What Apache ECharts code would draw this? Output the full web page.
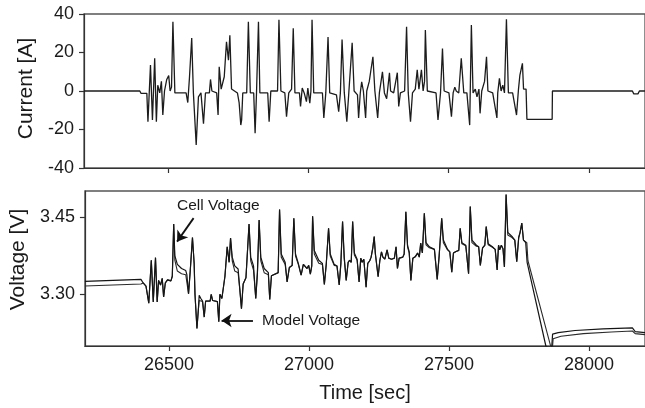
<!DOCTYPE html>
<html><head><meta charset="utf-8">
<script src="https://cdn.jsdelivr.net/npm/echarts@6/dist/echarts.min.js"></script>
<style>html,body{margin:0;padding:0;background:#fff}#c{width:645px;height:408px}</style>
</head><body><div id="c"></div>
<script>
// ---- data ----
const timeTicks = [26500, 27000, 27500, 28000];
const currentTicks = [-40, -20, 0, 20, 40];
const voltageTicks = [3.30, 3.45];

// [time s, current A]
const currentPts = [
[26200,0],[26399,0],[26403,-1.2],[26424,-1.2],[26428,-16],[26437,13.5],[26444,-15],[26452,17],[26458,-16],[26463,3],[26470,-1],[26476,5],[26481,-12.5],[26487,0],[26495,6],[26502,8],[26507,0],[26512,2],[26517,36],[26524,-1],
[26564,-1],[26570,-6],[26576,7],[26584,27.5],[26590,-1],[26600,-28],[26608,-3],[26617,-1],[26626,-17],[26633,-1],[26647,-1],[26651,6],[26656,0],[26673,-1],[26678,-12.5],[26682,12.6],[26689,1],[26700,7.4],[26708,25.6],[26715,16],[26720,29],[26726,1],[26747,-1],[26753,-6],[26759,-17.7],[26762,-15],[26766,-1],[26780,-1],[26786,36],[26793,-1],[26805,-1],[26810,-22],[26815,-1],[26818,-1],[26822,36],[26827,-1],[26855,-1],[26860,-16],[26866,0],[26890,0],[26895,37],[26902,0],[26916,-1],[26922,-13.3],[26930,-1],[26940,1],[26946,32.6],[26952,-1],[26968,-1],[26972,-8],[26978,1.5],[26985,-1],[26993,-5.5],[26998,1.5],[27005,-6.3],[27009,0],[27013,37],[27019,-1],[27050,-1],[27055,-14],[27062,-1],[27066,0],[27070,28],[27076,-1],[27100,-2],[27108,-10.7],[27114,-1],[27117,0],[27120,26.8],[27128,-1],[27137,-16],[27144,-1],[27151,0],[27156,25],[27163,0],[27175,-2],[27179,-14],[27185,-1],[27190,4.8],[27196,0],[27204,-14],[27208,0],[27217,5],[27222,10],[27230,17.8],[27233,17.8],[27237,0],[27247,-14],[27253,-1],[27264,10],[27271,-1],[27279,-4],[27289,9.5],[27293,0],[27304,-1],[27310,0],[27317,9.5],[27322,-8],[27328,-1],[27343,0],[27350,33.4],[27356,-1],[27364,-16],[27371,-1],[27381,1],[27388,11],[27394,1],[27403,11],[27409,0],[27414,5],[27417,31.7],[27424,0],[27455,-1],[27462,-15],[27471,-1],[27478,22],[27484,0],[27501,-1],[27510,-13.3],[27516,-1],[27522,2],[27527,0],[27536,-1],[27545,17],[27554,-1],[27565,-1],[27575,-17.7],[27581,34.3],[27587,-1],[27595,1],[27601,-3],[27608,1],[27612,-11.6],[27618,0],[27628,5],[27635,17.8],[27640,0],[27657,-1],[27672,-14],[27675,-1],[27681,6.6],[27687,0],[27693,3],[27699,-1],[27706,37.2],[27713,-1],[27728,-1],[27742,-12.5],[27749,1],[27754,8.3],[27763,14.4],[27767,1],[27776,1],[27779,-14.7],[27869,-14.7],[27870,0],[28155,0],[28160,-1.5],[28175,-1.5],[28180,0],[28200,0]
];

// [time s, voltage V] measured cell voltage
const cellVoltage = [
[26200,3.325],[26400,3.329],[26408,3.322],[26418,3.316],[26428,3.283],[26437,3.366],[26444,3.285],[26452,3.371],[26458,3.285],[26463,3.327],[26470,3.318],[26476,3.331],[26481,3.295],[26487,3.322],[26495,3.328],[26502,3.331],[26507,3.326],[26512,3.335],[26517,3.436],[26521,3.375],[26530,3.358],[26545,3.350],[26560,3.346],[26564,3.338],[26570,3.301],[26576,3.345],[26584,3.410],[26590,3.36],[26593,3.30],[26600,3.234],[26605,3.27],[26608,3.298],[26614,3.292],[26620,3.287],[26626,3.256],[26631,3.287],[26647,3.287],[26651,3.300],[26656,3.288],[26673,3.286],[26678,3.247],[26682,3.300],[26689,3.292],[26700,3.335],[26708,3.392],[26715,3.362],[26720,3.409],[26726,3.372],[26735,3.355],[26747,3.349],[26753,3.310],[26759,3.272],[26765,3.320],[26775,3.332],[26786,3.436],[26792,3.372],[26802,3.355],[26810,3.292],[26816,3.342],[26822,3.444],[26828,3.372],[26840,3.350],[26855,3.342],[26860,3.290],[26866,3.336],[26890,3.342],[26895,3.464],[26901,3.378],[26915,3.362],[26922,3.324],[26930,3.352],[26940,3.356],[26946,3.447],[26952,3.378],[26962,3.360],[26972,3.337],[26980,3.358],[26993,3.350],[26999,3.356],[27005,3.339],[27010,3.355],[27013,3.451],[27019,3.385],[27035,3.366],[27048,3.360],[27055,3.319],[27062,3.360],[27070,3.428],[27076,3.378],[27090,3.358],[27100,3.355],[27108,3.318],[27114,3.360],[27120,3.441],[27126,3.372],[27133,3.327],[27140,3.362],[27145,3.366],[27151,3.362],[27156,3.441],[27162,3.380],[27172,3.368],[27179,3.324],[27185,3.370],[27190,3.362],[27196,3.368],[27204,3.314],[27210,3.360],[27217,3.365],[27222,3.372],[27228,3.390],[27233,3.412],[27237,3.380],[27247,3.334],[27253,3.365],[27259,3.382],[27264,3.372],[27271,3.368],[27279,3.386],[27285,3.370],[27295,3.368],[27305,3.370],[27311,3.392],[27316,3.350],[27322,3.370],[27335,3.372],[27340,3.378],[27346,3.460],[27352,3.395],[27358,3.382],[27364,3.327],[27371,3.370],[27380,3.373],[27388,3.380],[27394,3.372],[27399,3.399],[27405,3.380],[27412,3.457],[27418,3.400],[27430,3.392],[27448,3.387],[27458,3.329],[27465,3.375],[27474,3.447],[27480,3.405],[27495,3.387],[27503,3.382],[27510,3.343],[27516,3.380],[27525,3.383],[27535,3.385],[27540,3.428],[27546,3.400],[27560,3.395],[27570,3.340],[27576,3.470],[27582,3.405],[27598,3.395],[27606,3.392],[27612,3.356],[27620,3.390],[27628,3.395],[27633,3.431],[27640,3.398],[27655,3.392],[27665,3.387],[27672,3.347],[27677,3.395],[27681,3.386],[27687,3.395],[27693,3.388],[27698,3.353],[27704,3.493],[27710,3.420],[27725,3.412],[27735,3.405],[27742,3.363],[27749,3.410],[27754,3.420],[27760,3.438],[27766,3.405],[27774,3.400],[27779,3.362],[27846,3.200],[27866,3.190],[27870,3.223],[27890,3.226],[27950,3.230],[28050,3.233],[28155,3.235],[28165,3.228],[28200,3.226]
];

// [time s, voltage V] model voltage
const modelVoltage = [
[26200,3.316],[26400,3.320],[26408,3.322],[26418,3.316],[26428,3.283],[26437,3.366],[26444,3.285],[26452,3.371],[26458,3.285],[26463,3.327],[26470,3.318],[26476,3.331],[26481,3.295],[26487,3.322],[26495,3.328],[26502,3.331],[26507,3.326],[26512,3.335],[26517,3.436],[26521,3.366],[26530,3.345],[26545,3.340],[26560,3.338],[26564,3.336],[26570,3.301],[26576,3.345],[26584,3.410],[26590,3.36],[26593,3.30],[26600,3.234],[26605,3.27],[26608,3.288],[26614,3.285],[26620,3.286],[26626,3.256],[26631,3.287],[26647,3.287],[26651,3.300],[26656,3.288],[26673,3.286],[26678,3.247],[26682,3.300],[26689,3.292],[26700,3.335],[26708,3.392],[26715,3.362],[26720,3.409],[26726,3.365],[26735,3.345],[26747,3.342],[26753,3.310],[26759,3.272],[26765,3.320],[26775,3.332],[26786,3.436],[26792,3.365],[26802,3.347],[26810,3.292],[26816,3.342],[26822,3.444],[26828,3.365],[26840,3.342],[26855,3.338],[26860,3.290],[26866,3.336],[26890,3.342],[26895,3.464],[26901,3.372],[26915,3.358],[26922,3.324],[26930,3.352],[26940,3.356],[26946,3.447],[26952,3.374],[26962,3.358],[26972,3.337],[26980,3.358],[26993,3.350],[26999,3.356],[27005,3.339],[27010,3.355],[27013,3.451],[27019,3.378],[27035,3.360],[27048,3.358],[27055,3.319],[27062,3.360],[27070,3.428],[27076,3.374],[27090,3.356],[27100,3.355],[27108,3.318],[27114,3.360],[27120,3.441],[27126,3.368],[27133,3.327],[27140,3.362],[27145,3.366],[27151,3.362],[27156,3.441],[27162,3.376],[27172,3.366],[27179,3.324],[27185,3.370],[27190,3.362],[27196,3.368],[27204,3.314],[27210,3.360],[27217,3.365],[27222,3.372],[27228,3.390],[27233,3.412],[27237,3.378],[27247,3.334],[27253,3.365],[27259,3.382],[27264,3.372],[27271,3.368],[27279,3.386],[27285,3.370],[27295,3.368],[27305,3.370],[27311,3.392],[27316,3.350],[27322,3.370],[27335,3.372],[27340,3.378],[27346,3.460],[27352,3.392],[27358,3.380],[27364,3.327],[27371,3.370],[27380,3.373],[27388,3.380],[27394,3.372],[27399,3.399],[27405,3.380],[27412,3.457],[27418,3.396],[27430,3.390],[27448,3.387],[27458,3.329],[27465,3.375],[27474,3.447],[27480,3.400],[27495,3.386],[27503,3.382],[27510,3.343],[27516,3.380],[27525,3.383],[27535,3.385],[27540,3.428],[27546,3.398],[27560,3.394],[27570,3.340],[27576,3.470],[27582,3.400],[27598,3.393],[27606,3.392],[27612,3.356],[27620,3.390],[27628,3.395],[27633,3.431],[27640,3.396],[27655,3.391],[27665,3.387],[27672,3.347],[27677,3.395],[27681,3.386],[27687,3.395],[27693,3.388],[27698,3.353],[27704,3.493],[27710,3.415],[27725,3.410],[27735,3.405],[27742,3.363],[27749,3.410],[27754,3.420],[27760,3.438],[27766,3.405],[27778,3.400],[27782,3.365],[27864,3.198],[27869,3.193],[27872,3.214],[27900,3.219],[27980,3.224],[28080,3.227],[28155,3.229],[28165,3.224],[28200,3.222]
];

// annotation arrows in data coordinates [time, voltage]
const cellArrow = [[26588, 3.4475], [26529, 3.402]];
const modelArrow = [[26800, 3.2494], [26688, 3.2494]];

// ---- chart ----
const FONT = 'Liberation Sans, Arial, sans-serif';
const TXT = '#1a1a1a';
const AX = '#333';
const chart = echarts.init(document.getElementById('c'), null, {renderer: 'canvas'});

const axisCommonX = {
  type: 'value', min: 26200, max: 28200,
  axisLine: {show: true, onZero: false, lineStyle: {color: AX, width: 1.2}},
  axisTick: {show: true, inside: false, length: 5, customValues: timeTicks, lineStyle: {color: AX, width: 1.2}},
  splitLine: {show: false}
};

const option = {
  animation: false,
  backgroundColor: '#fff',
  grid: [
    {left: 84, right: -3, top: 14, height: 154, show: true, borderColor: '#555', borderWidth: 1.3},
    {left: 84, right: -3, top: 191, height: 155, show: true, borderColor: '#555', borderWidth: 1.3}
  ],
  xAxis: [
    Object.assign({}, axisCommonX, {gridIndex: 0, axisLabel: {show: false}}),
    Object.assign({}, axisCommonX, {
      gridIndex: 1,
      axisLabel: {show: true, customValues: timeTicks, fontSize: 18, color: TXT, fontFamily: FONT, margin: 10,
                  formatter: v => String(Math.round(v))},
      name: 'Time [sec]', nameLocation: 'middle', nameGap: 37,
      nameTextStyle: {fontSize: 20, color: TXT, fontFamily: FONT}
    })
  ],
  yAxis: [
    {
      type: 'value', gridIndex: 0, min: -40, max: 40, interval: 20,
      axisLine: {show: true, onZero: false, lineStyle: {color: AX, width: 1.2}},
      axisTick: {show: true, inside: false, length: 5, lineStyle: {color: AX, width: 1.2}},
      axisLabel: {fontSize: 18, color: TXT, fontFamily: FONT, margin: 10},
      splitLine: {show: false},
      name: 'Current [A]', nameLocation: 'middle', nameGap: 45,
      nameTextStyle: {fontSize: 21, color: TXT, fontFamily: FONT, padding: [0, 0, 0, 5]}
    },
    {
      type: 'value', gridIndex: 1, min: 3.2, max: 3.5,
      axisLine: {show: true, onZero: false, lineStyle: {color: AX, width: 1.2}},
      axisTick: {show: true, inside: false, length: 5, customValues: voltageTicks, lineStyle: {color: AX, width: 1.2}},
      axisLabel: {customValues: voltageTicks, fontSize: 18, color: TXT, fontFamily: FONT, margin: 10,
                  formatter: v => v.toFixed(2)},
      splitLine: {show: false},
      name: 'Voltage [V]', nameLocation: 'middle', nameGap: 45,
      nameTextStyle: {fontSize: 21, color: TXT, fontFamily: FONT, padding: [0, 0, 0, 18]}
    }
  ],
  series: [
    {
      type: 'line', xAxisIndex: 0, yAxisIndex: 0, data: currentPts,
      showSymbol: false, symbol: 'none', lineStyle: {color: '#1c1c1c', width: 1.3}
    },
    {
      type: 'line', xAxisIndex: 1, yAxisIndex: 1, data: modelVoltage, name: 'Model Voltage',
      showSymbol: false, symbol: 'none', lineStyle: {color: '#2a2a2a', width: 1.1}
    },
    {
      type: 'line', xAxisIndex: 1, yAxisIndex: 1, data: cellVoltage, name: 'Cell Voltage',
      showSymbol: false, lineStyle: {color: '#151515', width: 1.2}
    },
    {
      type: 'lines', coordinateSystem: 'cartesian2d', xAxisIndex: 1, yAxisIndex: 1,
      silent: true, z: 5,
      symbol: ['none', 'arrow'], symbolSize: 10,
      lineStyle: {color: '#111', width: 1.8, opacity: 1},
      data: [{coords: cellArrow}, {coords: modelArrow}]
    }
  ],
  graphic: [
    {type: 'text', left: 177, top: 198, style: {text: 'Cell Voltage', font: '15.5px ' + FONT, fill: TXT}},
    {type: 'text', left: 262, top: 313, style: {text: 'Model Voltage', font: '15.5px ' + FONT, fill: TXT}}
  ]
};
chart.setOption(option);
</script>
</body></html>
